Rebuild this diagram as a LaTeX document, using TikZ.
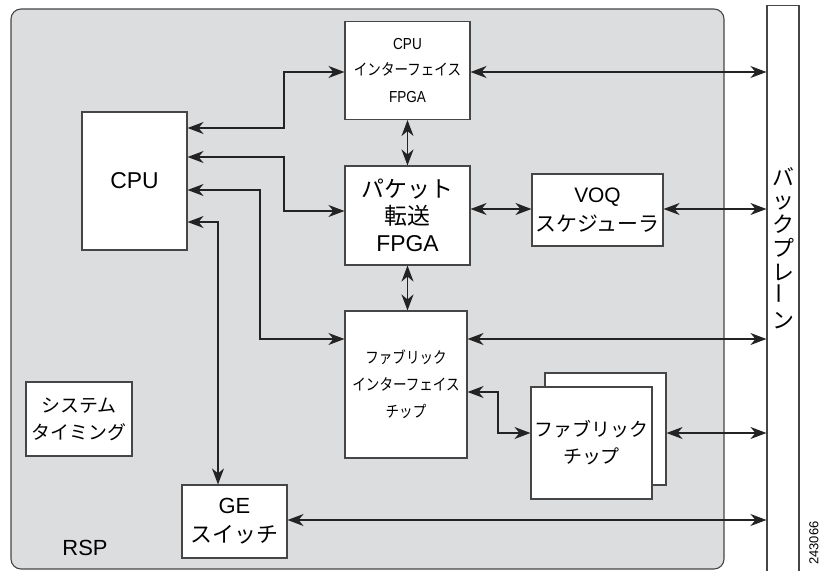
\documentclass[tikz,border=0pt]{standalone}
\usepackage{fontspec}
\usepackage{graphicx}
\usetikzlibrary{arrows.meta}
\setmainfont{Liberation Sans}
\newfontfamily\jp{Noto Sans CJK JP}
\newfontfamily\jpc[FakeStretch=0.85]{Noto Sans CJK JP}
\newfontfamily\latc[FakeStretch=0.85]{Liberation Sans}
\definecolor{panelfill}{RGB}{220,221,223}
\definecolor{edge}{RGB}{70,70,70}
\definecolor{wire}{RGB}{35,35,35}
\tikzset{
  blk/.style={draw=edge, line width=1.1bp, fill=white, inner sep=0pt, align=center, text=black},
  dbl/.style={draw=wire, line width=1.2bp, {Stealth[length=16bp,width=12bp,inset=5bp]}-{Stealth[length=16bp,width=12bp,inset=5bp]}},
}
\begin{document}
\begin{tikzpicture}[x=1bp,y=-1bp]
\useasboundingbox (0,0) rectangle (821,571);
% panel
\draw[draw=edge, line width=1.1bp, fill=panelfill, rounded corners=10bp] (11,9) rectangle (724,569);
% backplane
\node[blk, minimum width=32bp, minimum height=590bp, anchor=north] (bp) at (783,5) {};
\node[font=\fontsize{22}{24}\selectfont\jp, align=center, inner sep=0pt] (bptxt) at (783,248)
  {バ\\ッ\\ク\\プ\\レ\\\rotatebox{90}{ー}\\ン};
% boxes
\node[blk, minimum width=105bp, minimum height=138bp, font=\fontsize{23}{27}\selectfont] (cpu) at (134.5,181) {CPU};
\node[blk, minimum width=125bp, minimum height=98bp, font=\fontsize{16}{27}\selectfont] (cpuif) at (407.5,70.5)
  {\latc CPU\\\jpc インターフェイス\\\latc FPGA};
\node[blk, minimum width=125bp, minimum height=99bp, font=\fontsize{23}{27}\selectfont] (pkt) at (407.5,215.5)
  {\jp パケット\\\jp 転送\\FPGA};
\node[blk, minimum width=131bp, minimum height=72bp, font=\fontsize{21}{29}\selectfont] (voq) at (597.5,210)
  {VOQ\\\jp スケジューラ};
\node[blk, minimum width=122bp, minimum height=147bp, font=\fontsize{16}{27}\selectfont] (fif) at (406,384.5)
  {\jpc ファブリック\\\jpc インターフェイス\\\jpc チップ};
\node[blk, minimum width=121bp, minimum height=112bp] (fcb) at (605.5,429) {};
\node[blk, minimum width=121bp, minimum height=112bp, font=\fontsize{19}{27}\selectfont\jp] (fcf) at (591.5,443)
  {ファブリック\\チップ};
\node[blk, minimum width=106bp, minimum height=74bp, font=\fontsize{19}{27}\selectfont\jp] (sys) at (79,419)
  {システム\\タイミング};
\node[blk, minimum width=105bp, minimum height=73bp, font=\fontsize{22}{29}\selectfont] (ge) at (234.5,521.5)
  {GE\\\jp スイッチ};
\node[font=\fontsize{22}{26}\selectfont, inner sep=0pt] (rsp) at (85,548) {RSP};
\node[font=\fontsize{13}{15}\selectfont, rotate=90, inner sep=0pt] (fig) at (814,543) {243066};
% connectors
\draw[dbl] (cpu.east |- 0,128) -- (284,128) |- (cpuif.west |- 0,72);
\draw[dbl] (cpu.east |- 0,157) -- (284,157) |- (pkt.west |- 0,211);
\draw[dbl] (cpu.east |- 0,190) -- (260,190) |- (fif.west |- 0,339);
\draw[dbl] (cpu.east |- 0,222) -- (218,222) -- (ge.north -| 218,0);
\draw[dbl] (cpuif.south) -- (pkt.north);
\draw[dbl] (pkt.south) -- (pkt.south |- fif.north);
\draw[dbl] (pkt.east |- 0,209) -- (voq.west |- 0,209);
\draw[dbl] (voq.east |- 0,209) -- (bp.west |- 0,209);
\draw[dbl] (cpuif.east |- 0,72) -- (bp.west |- 0,72);
\draw[dbl] (fif.east |- 0,339) -- (bp.west |- 0,339);
\draw[dbl] (fif.east |- 0,392) -- (498,392) |- (fcf.west |- 0,433);
\draw[dbl] (fcb.east |- 0,433) -- (bp.west |- 0,433);
\draw[dbl] (ge.east |- 0,520) -- (bp.west |- 0,520);
\end{tikzpicture}
\end{document}
